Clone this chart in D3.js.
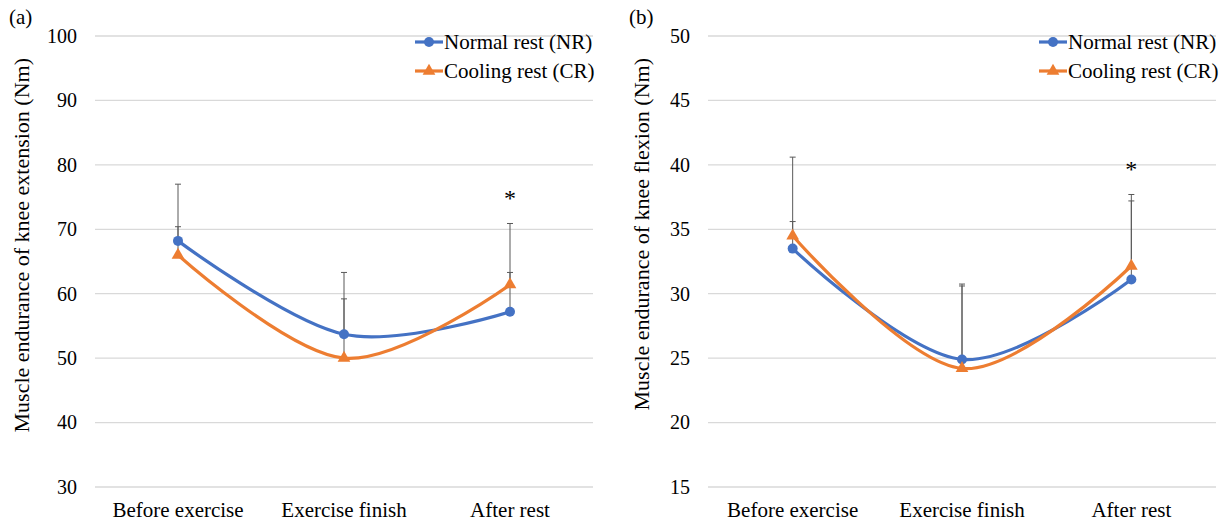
<!DOCTYPE html>
<html>
<head>
<meta charset="utf-8">
<script src="https://cdn.jsdelivr.net/npm/d3@7"></script>
<style>
  body { margin: 0; background: #fff; }
</style>
</head>
<body>
<svg id="chart"></svg>
<script>
const categories = ["Before exercise", "Exercise finish", "After rest"];
const seriesNames = ["Normal rest (NR)", "Cooling rest (CR)"];

// panel (a) knee extension
const extNR = [68.2, 53.7, 57.2];
const extCR = [66.0, 50.0, 61.4];
const extNRTop = [77.0, 63.3, 63.3];
const extCRTop = [70.4, 59.2, 70.9];
const extTicks = [30, 40, 50, 60, 70, 80, 90, 100];
const extStar = [null, null, 75.5];

// panel (b) knee flexion
const flxNR = [33.5, 24.9, 31.1];
const flxCR = [34.5, 24.2, 32.15];
const flxNRTop = [35.6, 30.75, 37.2];
const flxCRTop = [40.6, 30.6, 37.7];
const flxTicks = [15, 20, 25, 30, 35, 40, 45, 50];
const flxStar = [null, null, 40];

const width = 1227;
const height = 524;
const colors = ["#4472C4", "#ED7D31"];
const font = "'Liberation Serif', 'Times New Roman', serif";

let svg = d3.select("#chart").attr("width", width).attr("height", height);

function drawPanel(opt) {
    let g = svg.append("g");
    let x = d3.scaleBand().domain(categories).range([opt.left, opt.right]);
    let y = d3.scaleLinear().domain(d3.extent(opt.ticks)).range([487, 36]);

    // grid
    g.selectAll(".grid").data(opt.ticks).enter().append("line")
        .attr("x1", opt.left).attr("x2", opt.right)
        .attr("y1", d => y(d)).attr("y2", d => y(d))
        .attr("stroke", "#d9d9d9").attr("stroke-width", 1.3);

    let axisY = d3.axisLeft(y).tickValues(opt.ticks).tickSize(0).tickPadding(0);
    g.append("g").attr("transform", `translate(${opt.left - 18}, 0)`).call(axisY)
        .attr("font-family", font)
        .call(a => a.select(".domain").remove())
        .selectAll("text").style("font-size", "20px").attr("fill", "#000");

    let axisX = d3.axisBottom(x).tickSize(0).tickPadding(0);
    g.append("g").attr("transform", `translate(0, 502)`).call(axisX)
        .attr("font-family", font)
        .call(a => a.select(".domain").remove())
        .selectAll("text").style("font-size", "21px").attr("fill", "#000");

    g.append("text")
        .attr("transform", `translate(${opt.titleX}, 58) rotate(-90)`)
        .attr("text-anchor", "end").attr("dy", "0.35em")
        .style("font-family", font).style("font-size", "22px").text(opt.title);

    g.append("text").attr("x", opt.labelX).attr("y", 24)
        .style("font-family", font).style("font-size", "21px").text(opt.label);

    let cx = d => x(d) + x.bandwidth() / 2;

    // error bars
    let tops = [opt.nrTop, opt.crTop];
    let vals = [opt.nr, opt.cr];
    tops.forEach((top, s) => {
        categories.forEach((c, i) => {
            g.append("line").attr("x1", cx(c)).attr("x2", cx(c))
                .attr("y1", y(vals[s][i])).attr("y2", y(top[i]))
                .attr("stroke", "#595959").attr("stroke-width", 1);
            g.append("line").attr("x1", cx(c) - 3).attr("x2", cx(c) + 3)
                .attr("y1", y(top[i])).attr("y2", y(top[i]))
                .attr("stroke", "#595959").attr("stroke-width", 1);
        });
    });

    let line = d3.line().x((d, i) => cx(categories[i])).y(d => y(d))
        .curve(d3.curveCatmullRom.alpha(0));

    vals.forEach((v, s) => {
        g.append("path").datum(v).attr("d", line)
            .attr("fill", "none").attr("stroke", colors[s]).attr("stroke-width", 3.2);
    });

    g.selectAll(".nr").data(opt.nr).enter().append("circle")
        .attr("cx", (d, i) => cx(categories[i])).attr("cy", d => y(d))
        .attr("r", 5).attr("fill", colors[0]);

    let tri = d3.symbol().type(d3.symbolTriangle).size(70);
    g.selectAll(".cr").data(opt.cr).enter().append("path")
        .attr("d", tri)
        .attr("transform", (d, i) => `translate(${cx(categories[i])}, ${y(d)})`)
        .attr("fill", colors[1]);

    opt.star.forEach((s, i) => {
        if (s == null) return;
        g.append("text").attr("x", cx(categories[i])).attr("y", y(s) + 12)
            .attr("text-anchor", "middle").style("font-family", font)
            .style("font-size", "24px").text("*");
    });

    // legend
    seriesNames.forEach((name, s) => {
        let ly = opt.legendY + s * 29;
        g.append("line").attr("x1", opt.legendX).attr("x2", opt.legendX + 28)
            .attr("y1", ly).attr("y2", ly)
            .attr("stroke", colors[s]).attr("stroke-width", 3.2);
        if (s == 0) {
            g.append("circle").attr("cx", opt.legendX + 14).attr("cy", ly).attr("r", 5).attr("fill", colors[0]);
        } else {
            g.append("path").attr("d", tri).attr("transform", `translate(${opt.legendX + 14}, ${ly})`).attr("fill", colors[1]);
        }
        g.append("text").attr("x", opt.legendX + 29).attr("y", ly).attr("dy", "0.33em")
            .style("font-family", font).style("font-size", "21px").text(name);
    });
}

drawPanel({
    left: 95, right: 593, ticks: extTicks,
    nr: extNR, cr: extCR, nrTop: extNRTop, crTop: extCRTop, star: extStar,
    title: "Muscle endurance of knee extension (Nm)", titleX: 21,
    label: "(a)", labelX: 9, legendX: 415, legendY: 42
});

drawPanel({
    left: 708, right: 1216, ticks: flxTicks,
    nr: flxNR, cr: flxCR, nrTop: flxNRTop, crTop: flxCRTop, star: flxStar,
    title: "Muscle endurance of knee flexion (Nm)", titleX: 641,
    label: "(b)", labelX: 629, legendX: 1039, legendY: 42
});
</script>
</body>
</html>
